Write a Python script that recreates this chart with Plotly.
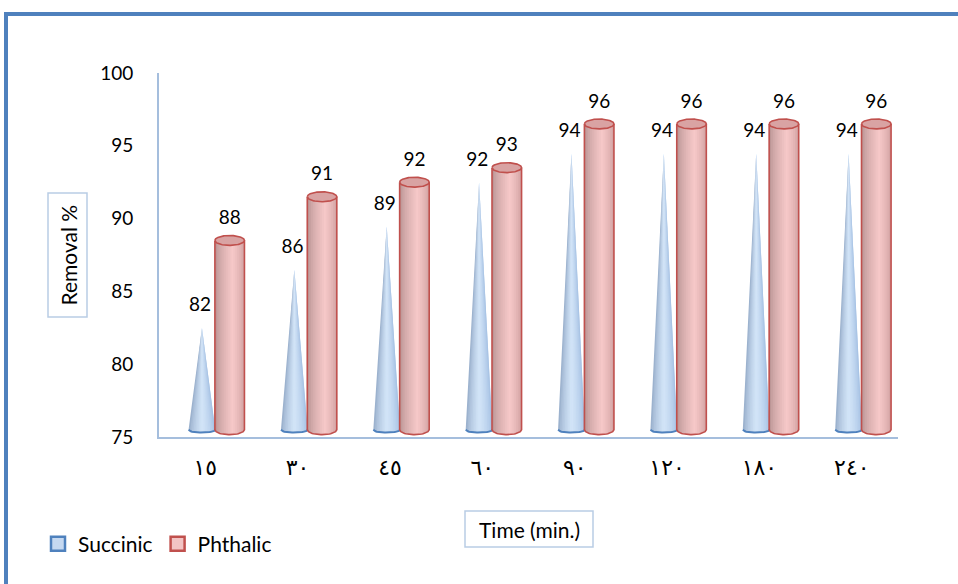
import plotly.graph_objects as go

# ---------------- data ----------------
categories = ["١٥", "٣٠", "٤٥", "٦٠", "٩٠", "١٢٠", "١٨٠", "٢٤٠"]
succinic = [82, 86, 89, 92, 94, 94, 94, 94]
phthalic = [88, 91, 92, 93, 96, 96, 96, 96]
y_ticks = [75, 80, 85, 90, 95, 100]

# ---------------- geometry / style ----------------
W, H = 958, 584
L, R, T, B = 159, 60, 73, 147
PW, PH = W - L - R, H - T - B
YMIN, YMAX = 75, 100
DEPTH = 0.5          # 3D lift of the solids (y units)
N_STRIP = 16

CONE_OFF, CONE_A, CONE_B = -0.035, 0.145, 0.2
CYL_OFF, CYL_A, CYL_B = 0.265, 0.16, 0.34

FONT = "Lato, 'Open Sans', sans-serif"


def px_x(p):
    return (p - L) / PW


def px_y(p):
    return (H - B - p) / PH


def hex2rgb(h):
    h = h.lstrip("#")
    return [int(h[i:i + 2], 16) for i in (0, 2, 4)]


def mix(c1, c2, f):
    a, b = hex2rgb(c1), hex2rgb(c2)
    return "rgb(%d,%d,%d)" % tuple(round(a[i] + (b[i] - a[i]) * f) for i in range(3))


def shade(t, dark_l, dark_r, light, peak=0.58):
    if t < peak:
        f = (t / peak) ** 0.6
        return mix(dark_l, light, f)
    f = ((1 - t) / (1 - peak)) ** 0.6
    return mix(dark_r, light, f)


def ell_y(x, cx, a, b, yc, lower=True):
    u = max(0.0, 1 - ((x - cx) / a) ** 2)
    d = b * u ** 0.5
    return yc - d if lower else yc + d


fig = go.Figure()
base = YMIN + DEPTH
OVER = 0.9  # strip overlap (fraction of a strip) to hide seams

# ---------------- cones (Succinic) ----------------
for k in range(N_STRIP):
    t0 = k / N_STRIP
    t1 = min(1.0, (k + 1 + OVER) / N_STRIP)
    tm = (k + 0.5) / N_STRIP
    xs, ys = [], []
    for i, v in enumerate(succinic):
        cx = i + CONE_OFF
        x0 = cx - CONE_A + 2 * CONE_A * t0
        x1 = cx - CONE_A + 2 * CONE_A * t1
        xs += [cx, x0, x1, cx, None]
        ys += [v + DEPTH, ell_y(x0, cx, CONE_A, CONE_B, base),
               ell_y(x1, cx, CONE_A, CONE_B, base), v + DEPTH, None]
    col = shade(tm, "#8FA6C4", "#9FBCE0", "#D3E5F8", peak=0.5)
    fig.add_trace(go.Scatter(x=xs, y=ys, mode="lines", fill="toself",
                             fillcolor=col, line=dict(width=0),
                             showlegend=False, hoverinfo="skip"))

# cone base arcs
xs, ys = [], []
for i, v in enumerate(succinic):
    cx = i + CONE_OFF
    for j in range(25):
        x = cx - CONE_A + 2 * CONE_A * j / 24
        xs.append(x)
        ys.append(ell_y(x, cx, CONE_A, CONE_B, base))
    xs.append(None)
    ys.append(None)
fig.add_trace(go.Scatter(x=xs, y=ys, mode="lines",
                         line=dict(color="#4F81BD", width=2),
                         showlegend=False, hoverinfo="skip"))

# ---------------- cylinders (Phthalic) ----------------
for k in range(N_STRIP):
    t0 = k / N_STRIP
    t1 = min(1.0, (k + 1 + OVER) / N_STRIP)
    tm = (k + 0.5) / N_STRIP
    xs, ys = [], []
    for i, v in enumerate(phthalic):
        cx = i + CYL_OFF
        x0 = cx - CYL_A + 2 * CYL_A * t0
        x1 = cx - CYL_A + 2 * CYL_A * t1
        top = v + DEPTH
        xs += [x0, x1, x1, x0, x0, None]
        ys += [ell_y(x0, cx, CYL_A, CYL_B, base), ell_y(x1, cx, CYL_A, CYL_B, base),
               top, top, ell_y(x0, cx, CYL_A, CYL_B, base), None]
    col = shade(tm, "#B08C8C", "#C99A9A", "#F6C8C8", peak=0.6)
    fig.add_trace(go.Scatter(x=xs, y=ys, mode="lines", fill="toself",
                             fillcolor=col, line=dict(width=0),
                             showlegend=False, hoverinfo="skip"))

# cylinder side edges + bottom arcs
xs, ys = [], []
for i, v in enumerate(phthalic):
    cx = i + CYL_OFF
    top = v + DEPTH
    xs += [cx - CYL_A, cx - CYL_A]
    ys += [top, base]
    for j in range(25):
        x = cx - CYL_A + 2 * CYL_A * j / 24
        xs.append(x)
        ys.append(ell_y(x, cx, CYL_A, CYL_B, base))
    xs += [cx + CYL_A, None]
    ys += [top, None]
fig.add_trace(go.Scatter(x=xs, y=ys, mode="lines",
                         line=dict(color="#C0504D", width=1.6),
                         showlegend=False, hoverinfo="skip"))

# cylinder top ellipses
xs, ys = [], []
for i, v in enumerate(phthalic):
    cx = i + CYL_OFF
    top = v + DEPTH
    for j in range(41):
        x = cx - CYL_A + 2 * CYL_A * j / 40
        xs.append(x)
        ys.append(ell_y(x, cx, CYL_A, CYL_B, top, lower=True))
    for j in range(41):
        x = cx + CYL_A - 2 * CYL_A * j / 40
        xs.append(x)
        ys.append(ell_y(x, cx, CYL_A, CYL_B, top, lower=False))
    xs.append(None)
    ys.append(None)
fig.add_trace(go.Scatter(x=xs, y=ys, mode="lines", fill="toself",
                         fillcolor="#D9A3A3", line=dict(color="#C0504D", width=1.6),
                         showlegend=False, hoverinfo="skip"))

# ---------------- value labels ----------------
LABEL_UP = 1.95
fig.add_trace(go.Scatter(x=[i + CONE_OFF - 0.02 for i in range(len(succinic))],
                         y=[v + LABEL_UP for v in succinic],
                         text=[str(v) for v in succinic], mode="text",
                         textfont=dict(family=FONT, size=19, color="#000000"),
                         showlegend=False, hoverinfo="skip"))
fig.add_trace(go.Scatter(x=[i + CYL_OFF for i in range(len(phthalic))],
                         y=[v + LABEL_UP for v in phthalic],
                         text=[str(v) for v in phthalic], mode="text",
                         textfont=dict(family=FONT, size=19, color="#000000"),
                         showlegend=False, hoverinfo="skip"))

# ---------------- legend entries ----------------
fig.add_trace(go.Scatter(x=[None], y=[None], mode="markers", name="Succinic",
                         marker=dict(symbol="square", size=14, color="#C6D9F1",
                                     line=dict(color="#4F81BD", width=2.5))))
fig.add_trace(go.Scatter(x=[None], y=[None], mode="markers", name="Phthalic",
                         marker=dict(symbol="square", size=14, color="#F2C4C4",
                                     line=dict(color="#C0504D", width=2.5))))

# ---------------- decorations ----------------
shapes = [
    # outer blue frame (left + top)
    dict(type="line", xref="paper", yref="paper", x0=px_x(6), x1=px_x(6),
         y0=px_y(H + 5), y1=px_y(12), line=dict(color="#4F81BD", width=4)),
    dict(type="line", xref="paper", yref="paper", x0=px_x(4), x1=px_x(W + 5),
         y0=px_y(14), y1=px_y(14), line=dict(color="#4F81BD", width=4)),
    # axis title boxes
    dict(type="rect", xref="paper", yref="paper", x0=px_x(48), x1=px_x(87),
         y0=px_y(317), y1=px_y(193), line=dict(color="#B9CDE5", width=1.5)),
    dict(type="rect", xref="paper", yref="paper", x0=px_x(465), x1=px_x(593),
         y0=px_y(547), y1=px_y(511), line=dict(color="#B9CDE5", width=1.5)),
]
annotations = [
    dict(text="Removal %", xref="paper", yref="paper", x=px_x(67.5), y=px_y(255),
         textangle=-90, showarrow=False, xanchor="center", yanchor="middle",
         font=dict(family=FONT, size=21, color="#000000")),
    dict(text="Time (min.)", xref="paper", yref="paper", x=px_x(529), y=px_y(529),
         showarrow=False, xanchor="center", yanchor="middle",
         font=dict(family=FONT, size=21, color="#000000")),
]

fig.update_layout(
    width=W, height=H,
    margin=dict(l=L, r=R, t=T, b=B, pad=0),
    paper_bgcolor="white", plot_bgcolor="white",
    shapes=shapes, annotations=annotations,
    showlegend=True,
    legend=dict(orientation="h", x=px_x(38), y=px_y(544), xanchor="left",
                yanchor="middle", font=dict(family=FONT, size=21, color="#000000"),
                bgcolor="rgba(0,0,0,0)", itemwidth=30, tracegroupgap=0),
    xaxis=dict(range=[-0.5, len(categories) - 0.5], tickvals=list(range(len(categories))),
               ticktext=categories, showline=True, linecolor="#A5BEDD", linewidth=2,
               showgrid=False, zeroline=False, ticks="", ticklabelstandoff=10,
               tickfont=dict(family="DejaVu Sans", size=22, color="#000000"),
               fixedrange=True),
    yaxis=dict(range=[YMIN, YMAX], tickvals=y_ticks, showline=True,
               linecolor="#A5BEDD", linewidth=2, showgrid=False, zeroline=False,
               ticks="", ticklabelstandoff=20,
               tickfont=dict(family=FONT, size=19, color="#000000"), fixedrange=True),
)

fig.write_html("out.html")
